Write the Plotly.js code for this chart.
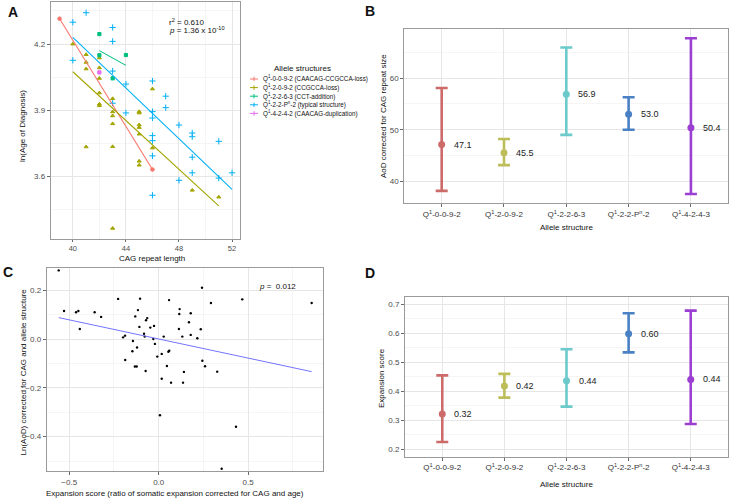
<!DOCTYPE html>
<html><head><meta charset="utf-8">
<script src="https://cdn.plot.ly/plotly-3.0.1.min.js"></script>
<style>html,body{margin:0;padding:0;background:#fff}#chart{width:729px;height:501px}</style>
</head><body><div id="chart"></div>
<script>
// ---------- Panel A data ----------
const aNames = ['Q<sup>1</sup>-0-0-9-2 (CAACAG-CCGCCA-loss)','Q<sup>1</sup>-2-0-9-2 (CCGCCA-loss)','Q<sup>1</sup>-2-2-6-3 (CCT-addition)','Q<sup>1</sup>-2-2-P<sup>n</sup>-2 (typical structure)','Q<sup>1</sup>-4-2-4-2 (CAACAG-duplication)'];
const aColors = ['#F8766D','#A3A500','#00BF7D','#00B0F6','#E76BF3'];
const aRedX = [39, 46];
const aRedY = [4.315, 3.630];
const aOliveX = [40, 41,41,41,41, 42,42,42,42,42,42, 43,43,43,43,43,43, 45,45,45,45,45,45,45, 46,46, 49, 51];
const aOliveY = [4.200, 4.152,4.117,4.087,3.733, 4.137,4.092,4.044,3.978,3.927,3.920, 3.952,3.892,3.874,3.838,3.734,3.363, 3.893,3.887,3.833,3.821,3.791,3.668,3.650, 3.996,3.728, 3.536, 3.505];
const aGreenX = [42, 42, 43, 44];
const aGreenY = [4.245, 4.149, 4.044, 4.150];
const aBlueX = [40,40, 41, 43,43,43,43, 44,44, 46,46,46,46,46,46,46, 47,47, 48,48, 49,49,49,49, 51,51, 52];
const aBlueY = [4.299,4.126, 4.342, 4.275,4.212,4.077,3.931, 4.018,3.887, 4.032,3.893,3.864,3.784,3.761,3.692,3.513, 3.963,3.911, 3.832,3.581, 3.796,3.779,3.686,3.615, 3.758,3.591, 3.615];
const aPurpleX = [42];
const aPurpleY = [4.071];
// fitted lines (start/end)
const aFitRedX = [39, 46],   aFitRedY = [4.315, 3.630];
const aFitOliveX = [40, 51], aFitOliveY = [4.074, 3.465];
const aFitGreenX = [42, 44], aFitGreenY = [4.170, 4.103];
const aFitBlueX = [40, 52],  aFitBlueY = [4.230, 3.540];

// ---------- Panel B / D data ----------
const structLabels = ['Q<sup>1</sup>-0-0-9-2','Q<sup>1</sup>-2-0-9-2','Q<sup>1</sup>-2-2-6-3','Q<sup>1</sup>-2-2-P<sup>n</sup>-2','Q<sup>1</sup>-4-2-4-3'];
const structColors = ['#CD6B6B','#BDBD5A','#6CCACA','#4A80C4','#9B3ED2'];
const bMean = [47.1, 45.5, 56.9, 53.0, 50.4];
const bLow  = [38.1, 43.1, 49.0, 50.0, 37.5];
const bHigh = [58.1, 48.2, 66.0, 56.3, 67.8];
const dMean = [0.322, 0.418, 0.436, 0.598, 0.441];
const dLow  = [0.225, 0.378, 0.347, 0.534, 0.287];
const dHigh = [0.455, 0.460, 0.545, 0.669, 0.678];

// ---------- Panel C data ----------
const cX = [-0.559,-0.529,-0.462,-0.449,-0.441,-0.358,-0.322,-0.227,-0.199,-0.188,-0.187,-0.147,-0.144,-0.133,-0.123,-0.131,-0.121,-0.116,-0.104,-0.108,-0.082,-0.078,-0.071,-0.064,-0.073,-0.047,-0.026,-0.030,-0.021,-0.008,0.007,0.017,0.017,0.028,0.046,0.054,0.059,0.058,0.069,0.113,0.115,0.117,0.132,0.136,0.141,0.169,0.179,0.179,0.216,0.235,0.242,0.244,0.259,0.292,0.327,0.352,0.432,0.467,0.855];
const cY = [0.283,0.116,0.111,0.116,0.042,0.111,0.092,0.166,0.008,0.015,-0.085,-0.049,-0.007,-0.112,-0.112,0.094,-0.034,0.120,0.167,0.051,0.023,0.011,0.078,0.087,-0.130,0.048,0.055,0.001,-0.019,-0.071,-0.312,-0.060,-0.162,0.011,-0.110,-0.051,-0.047,0.161,-0.178,0.042,0.104,0.124,0.011,-0.178,-0.134,0.070,0.107,0.018,0.004,0.041,0.212,-0.088,-0.111,0.149,-0.133,-0.532,-0.359,0.164,0.149];
const cLineX = [-0.559, 0.855];
const cLineY = [0.089, -0.133];

// ---------- helpers ----------
const W = 729, H = 501;
const FONT = 'Liberation Sans, Arial, sans-serif';
const px = v => v / W;
const py = v => 1 - v / H;
const MINOR = {showgrid: true, gridcolor: '#f2f2f2', gridwidth: 0.8};

function axis(extra) {
  return Object.assign({
    showline: true, mirror: true, linecolor: '#9a9a9a', linewidth: 1,
    showgrid: true, gridcolor: '#e6e6e6', gridwidth: 1,
    ticks: 'outside', ticklen: 3, tickcolor: '#444', tickwidth: 0.8,
    tickfont: {size: 8, color: '#4d4d4d', family: FONT},
    zeroline: false, fixedrange: true
  }, extra);
}

const traces = [];
// Panel A points
const aPts = [[aRedX,aRedY,'circle',3.6],[aOliveX,aOliveY,'triangle-up',3.6],[aGreenX,aGreenY,'square',3.2],[aBlueX,aBlueY,'cross-thin',4.5],[aPurpleX,aPurpleY,'square',3.2]];
aPts.forEach((s, i) => {
  traces.push({type:'scatter', mode:'markers', x:s[0], y:s[1], xaxis:'x', yaxis:'y', showlegend:false,
    marker:{color:aColors[i], size:s[3], symbol:s[2], line:{color:aColors[i], width:1}}, hoverinfo:'skip'});
});
const aFits = [[aFitRedX,aFitRedY,0],[aFitOliveX,aFitOliveY,1],[aFitGreenX,aFitGreenY,2],[aFitBlueX,aFitBlueY,3]];
aFits.forEach(f => {
  traces.push({type:'scatter', mode:'lines', x:f[0], y:f[1], xaxis:'x', yaxis:'y', showlegend:false,
    line:{color:aColors[f[2]], width:1.1}, hoverinfo:'skip'});
});

// Panel B & D error bars
function addBars(mean, low, high, xa, ya) {
  mean.forEach((m, i) => {
    traces.push({type:'scatter', mode:'markers', x:[i], y:[m], xaxis:xa, yaxis:ya, showlegend:false,
      marker:{color:structColors[i], size:7},
      error_y:{type:'data', symmetric:false, array:[high[i]-m], arrayminus:[m-low[i]], color:structColors[i], thickness:2.6, width:6},
      hoverinfo:'skip'});
  });
}
addBars(bMean, bLow, bHigh, 'x2', 'y2');
addBars(dMean, dLow, dHigh, 'x4', 'y4');

// Panel C
traces.push({type:'scatter', mode:'markers', x:cX, y:cY, xaxis:'x3', yaxis:'y3', showlegend:false,
  marker:{color:'#000', size:2.4}, hoverinfo:'skip'});
traces.push({type:'scatter', mode:'lines', x:cLineX, y:cLineY, xaxis:'x3', yaxis:'y3', showlegend:false,
  line:{color:'#7373ff', width:1}, hoverinfo:'skip'});

const ann = [];
const shapes = [];
function txt(t, x, y, size, opts) {
  ann.push(Object.assign({text:t, x:x, y:y, xref:'paper', yref:'paper', showarrow:false,
    font:{family:FONT, size:size, color:'#111'}, xanchor:'center', yanchor:'middle'}, opts || {}));
}
// panel labels
txt('<b>A</b>', px(13), py(12), 14);
txt('<b>B</b>', px(370), py(11), 14);
txt('<b>C</b>', px(8), py(272), 14);
txt('<b>D</b>', px(370), py(273), 14);
// axis titles
txt('CAG repeat length', px(152), py(258.5), 8);
txt('ln(Age of Diagnosis)', px(23), py(126), 8, {textangle:-90});
txt('Allele structure', px(566.5), py(227), 8);
txt('AoD corrected for CAG repeat size', px(383), py(116), 8, {textangle:-90});
txt('Expansion score (ratio of somatic expansion corrected for CAG and age)', px(175), py(493), 8);
txt('Ln(AoD) corrected for CAG and allele structure', px(22.5), py(372), 8, {textangle:-90});
txt('Allele structure', px(566.5), py(484), 8);
txt('Expansion score', px(381), py(378), 8, {textangle:-90});
// stats
txt('r<sup>2</sup> = 0.610', px(167), py(21.5), 8, {xanchor:'left'});
txt('<i>p</i> = 1.36 x 10<sup>-10</sup>', px(167), py(30.5), 8, {xanchor:'left'});
txt('<i>p</i> =  0.012', px(257), py(286), 8, {xanchor:'left'});
// value labels
bMean.forEach((m, i) => ann.push({text:m.toFixed(1), x:i, y:m, xref:'x2', yref:'y2', showarrow:false,
  xanchor:'left', xshift:10, font:{family:FONT, size:9, color:'#222'}}));
dMean.forEach((m, i) => ann.push({text:m.toFixed(2), x:i, y:m, xref:'x4', yref:'y4', showarrow:false,
  xanchor:'left', xshift:10, font:{family:FONT, size:9, color:'#222'}}));
// legend for panel A
txt('Allele structures', px(302), py(68), 8);
aNames.forEach((n, i) => {
  const yy = 79 + i * 8.6;
  txt(n, px(261), py(yy), 6.3, {xanchor:'left'});
  shapes.push({type:'line', xref:'paper', yref:'paper', x0:px(250), x1:px(258), y0:py(yy), y1:py(yy), line:{color:aColors[i], width:1}});
  shapes.push({type:'line', xref:'paper', yref:'paper', x0:px(254), x1:px(254), y0:py(yy-2.2), y1:py(yy+2.2), line:{color:aColors[i], width:1}});
});

const layout = {
  width: W, height: H, margin: {l:0, r:0, t:0, b:0},
  paper_bgcolor: '#fff', plot_bgcolor: '#fff',
  font: {family: FONT, color: '#111'},
  showlegend: false,
  xaxis: axis({domain:[px(50.7), px(240)], range:[38.33, 52.6], dtick:4, tick0:0, ticklen:2, tickfont:{size:7.5, color:'#4d4d4d', family:FONT}, anchor:'y', minor:Object.assign({dtick:2}, MINOR)}),
  yaxis: axis({domain:[py(239), py(1.5)], range:[3.3145, 4.393], dtick:0.3, tick0:3.6, tickformat:'.1f', anchor:'x', minor:Object.assign({dtick:0.15, tick0:3.45}, MINOR)}),
  xaxis2: axis({domain:[px(404.3), px(728.3)], range:[-0.6, 4.6], tickvals:[0,1,2,3,4], ticktext:structLabels, anchor:'y2', tickfont:{size:8, color:'#333', family:FONT}}),
  yaxis2: axis({domain:[py(203.3), py(29.3)], range:[35.68, 69.53], dtick:10, tick0:0, anchor:'x2', minor:Object.assign({dtick:5}, MINOR)}),
  xaxis3: axis({domain:[px(46.7), px(323.3)], range:[-0.626, 0.92], dtick:0.5, tick0:0, tickformat:'.1f', anchor:'y3', minor:Object.assign({dtick:0.25}, MINOR)}),
  yaxis3: axis({domain:[py(471), py(268.3)], range:[-0.541, 0.2916], dtick:0.2, tick0:0, tickformat:'.1f', anchor:'x3', minor:Object.assign({dtick:0.1}, MINOR)}),
  xaxis4: axis({domain:[px(405), px(728)], range:[-0.6, 4.6], tickvals:[0,1,2,3,4], ticktext:structLabels, anchor:'y4', tickfont:{size:8, color:'#333', family:FONT}}),
  yaxis4: axis({domain:[py(456.7), py(297)], range:[0.1745, 0.725], dtick:0.1, tick0:0, tickformat:'.1f', anchor:'x4', minor:Object.assign({dtick:0.05}, MINOR)}),
  annotations: ann,
  shapes: shapes
};

Plotly.newPlot('chart', traces, layout, {staticPlot:true, displayModeBar:false});
</script>
</body></html>
